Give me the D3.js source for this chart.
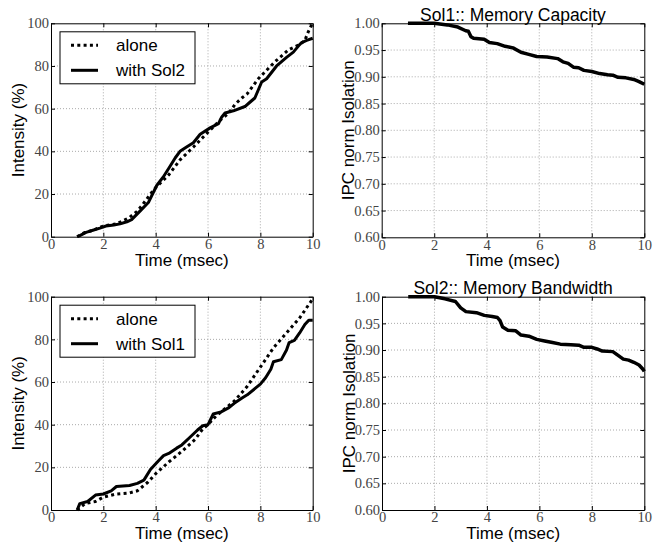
<!DOCTYPE html>
<html>
<head>
<meta charset="utf-8">
<script src="https://cdn.jsdelivr.net/npm/d3@7"></script>
<style>
  body { margin: 0; background: #fff; }
  .lbl { font-family: "Liberation Sans", Arial, sans-serif; font-size: 17px; fill: #000; }
  .grid line { stroke: #aaa; stroke-width: 1; stroke-dasharray: 1,2; }
</style>
</head>
<body>
<script>
// Top-left: intensity, alone vs with Sol2
var tlAloneT = [1.0, 1.3, 1.6, 2.0, 2.5, 3.0, 3.3, 3.5, 3.8, 4.0, 4.5, 4.93, 5.44, 6.0, 6.5, 6.8, 7.03, 7.29, 7.5, 7.92, 8.24, 8.56, 9.07, 9.32, 9.5, 9.7, 9.83, 9.96, 10];
var tlAloneV = [0, 2, 3, 5, 6, 9, 12, 15, 20, 23, 29, 36, 42, 49, 55, 58, 62, 65, 67, 74, 78, 82, 87.5, 89, 90, 92, 96, 99.3, 100];
var tlSolT = [1.0, 1.1, 1.34, 1.6, 1.87, 2.1, 2.4, 2.64, 2.9, 3.08, 3.4, 3.72, 4.04, 4.29, 4.55, 4.75, 4.93, 5.18, 5.44, 5.7, 6.08, 6.4, 6.52, 6.65, 6.97, 7.41, 7.6, 7.79, 8.05, 8.24, 8.62, 9.0, 9.26, 9.5, 9.58, 9.77, 10];
var tlSolV = [0, 0.5, 2, 3, 4, 5, 5.5, 6, 7, 8, 12, 16, 24, 28, 33, 37, 40, 42, 44, 48, 51, 53, 56, 58, 59, 61, 63, 65, 72.5, 74, 80, 84, 86.5, 90, 91, 92, 93];

// Bottom-left: intensity, alone vs with Sol1
var blAloneT = [1.0, 1.3, 1.7, 2.0, 2.5, 3.0, 3.3, 3.5, 3.7, 4.0, 4.5, 5.0, 5.5, 5.8, 6.0, 6.3, 6.6, 7.0, 7.5, 8.0, 8.5, 9.0, 9.5, 10];
var blAloneV = [0, 3, 4, 6, 7.5, 8, 9, 11, 13, 17, 22.5, 27.5, 33, 38, 40, 44, 47, 51, 58, 67, 76, 83, 90, 99];
var blSolT = [1.0, 1.1, 1.4, 1.7, 2.0, 2.3, 2.5, 3.0, 3.3, 3.55, 3.8, 4.1, 4.3, 4.5, 4.8, 5.0, 5.3, 5.6, 5.8, 6.0, 6.2, 6.5, 6.8, 7.0, 7.3, 7.5, 7.8, 8.0, 8.2, 8.4, 8.5, 8.8, 9.0, 9.1, 9.3, 9.5, 9.7, 9.85, 10];
var blSolV = [0, 3, 4, 7, 7.5, 9, 11, 11.5, 12.5, 14, 19, 23, 25.5, 26.5, 29, 30.5, 34, 37.5, 39.5, 40, 45, 46, 48, 50, 52.5, 54, 57, 59, 62, 66, 69.5, 70.5, 75, 78.5, 79.5, 83, 87, 89, 89];

// Top-right: Sol1 memory capacity
var trT = [1.0, 2.0, 2.5, 2.9, 3.2, 3.3, 3.4, 3.5, 3.9, 4.1, 4.4, 4.7, 5.0, 5.3, 5.6, 5.9, 6.3, 6.7, 6.9, 7.1, 7.3, 7.5, 7.7, 8.0, 8.3, 8.6, 8.8, 9.0, 9.3, 9.6, 9.8, 10];
var trV = [1.0, 1.0, 0.997, 0.993, 0.986, 0.985, 0.975, 0.972, 0.970, 0.964, 0.962, 0.957, 0.954, 0.946, 0.942, 0.938, 0.937, 0.934, 0.928, 0.925, 0.918, 0.917, 0.912, 0.910, 0.906, 0.904, 0.903, 0.899, 0.898, 0.895, 0.891, 0.886];

// Bottom-right: Sol2 memory bandwidth
var brT = [1.0, 2.0, 2.4, 2.8, 3.0, 3.2, 3.6, 3.9, 4.2, 4.4, 4.5, 4.6, 4.8, 5.1, 5.3, 5.6, 5.9, 6.2, 6.5, 6.8, 7.2, 7.5, 7.7, 8.0, 8.2, 8.4, 8.8, 9.0, 9.2, 9.4, 9.6, 9.8, 9.95, 10];
var brV = [1.0, 1.0, 0.996, 0.991, 0.979, 0.972, 0.970, 0.965, 0.963, 0.961, 0.955, 0.943, 0.937, 0.936, 0.928, 0.926, 0.920, 0.917, 0.914, 0.911, 0.910, 0.909, 0.905, 0.905, 0.902, 0.898, 0.897, 0.890, 0.883, 0.881, 0.877, 0.872, 0.864, 0.860];

var xTicks = [0, 2, 4, 6, 8, 10];
var intensityTicks = [0, 20, 40, 60, 80, 100];
var ipcTicks = [0.60, 0.65, 0.70, 0.75, 0.80, 0.85, 0.90, 0.95, 1.00];

function zip(t, v) { return t.map(function(d, i) { return [d, v[i]]; }); }

var svg = d3.select("body").append("svg")
  .attr("width", 667)
  .attr("height", 544);

function panel(o) {
  var w = o.x1 - o.x0, h = o.y1 - o.y0;
  var g = svg.append("g").attr("transform", "translate(" + o.x0 + "," + o.y0 + ")");

  var x = d3.scaleLinear().domain([0, 10]).range([0, w]);
  var y = d3.scaleLinear().domain(o.yDomain).range([h, 0]);

  // dotted grid
  var grid = g.append("g").attr("class", "grid");
  grid.selectAll(".gx").data(xTicks.slice(1, -1)).enter().append("line")
    .attr("x1", d => x(d)).attr("x2", d => x(d)).attr("y1", 0).attr("y2", h);
  grid.selectAll(".gy").data(o.yTicks.slice(1, -1)).enter().append("line")
    .attr("y1", d => y(d)).attr("y2", d => y(d)).attr("x1", 0).attr("x2", w);

  // series
  var line = d3.line().x(d => x(d[0])).y(d => y(d[1]));
  o.series.forEach(function(s) {
    g.append("path")
      .attr("d", line(s.data))
      .attr("fill", "none")
      .attr("stroke", "#000")
      .attr("stroke-width", s.width)
      .attr("stroke-linejoin", "round")
      .attr("stroke-dasharray", s.dash || null);
  });

  // axes with inward ticks
  g.append("g").attr("transform", "translate(0," + h + ")")
    .call(d3.axisBottom(x).tickValues(xTicks).tickSizeInner(-4).tickSizeOuter(0).tickPadding(2).tickFormat(d3.format("d")));
  g.append("g")
    .call(d3.axisLeft(y).tickValues(o.yTicks).tickSizeInner(-4).tickSizeOuter(0).tickPadding(2).tickFormat(o.yFormat));
  g.append("g")
    .call(d3.axisTop(x).tickValues(xTicks).tickSizeInner(-4).tickSizeOuter(0).tickFormat(""));
  g.append("g").attr("transform", "translate(" + w + ",0)")
    .call(d3.axisRight(y).tickValues(o.yTicks).tickSizeInner(-4).tickSizeOuter(0).tickFormat(""));
  g.selectAll(".domain").attr("stroke", "#000");
  g.selectAll(".tick line").attr("stroke", "#000");
  g.selectAll(".tick text")
    .style("font-family", "'Liberation Serif', 'Times New Roman', serif")
    .style("font-size", "14.5px")
    .style("fill", "#444");

  // labels
  g.append("text").attr("class", "lbl")
    .attr("x", w / 2).attr("y", h + 29)
    .attr("text-anchor", "middle")
    .text("Time (msec)");
  g.append("text").attr("class", "lbl")
    .attr("transform", "translate(" + o.yLabelX + "," + (h / 2) + ") rotate(-90)")
    .attr("text-anchor", "middle")
    .attr("dominant-baseline", "central")
    .text(o.yLabel);

  if (o.title) {
    g.append("text").attr("class", "lbl")
      .attr("x", w / 2).attr("y", -2.5)
      .attr("text-anchor", "middle")
      .style("font-size", "17.5px")
      .text(o.title);
  }

  if (o.legend) {
    var lg = g.append("g").attr("transform", "translate(9,8.5)");
    lg.append("rect").attr("width", 135).attr("height", 52)
      .attr("fill", "#fff").attr("stroke", "#000").attr("stroke-width", 1);
    o.series.forEach(function(s, i) {
      var yy = 13.5 + i * 25;
      lg.append("line")
        .attr("x1", 11).attr("x2", 38).attr("y1", yy).attr("y2", yy)
        .attr("stroke", "#000").attr("stroke-width", s.width)
        .attr("stroke-dasharray", s.dash || null);
      lg.append("text").attr("class", "lbl")
        .attr("x", 56).attr("y", yy + 6)
        .text(s.name);
    });
  }
}

var dotted = "3,3.3";

panel({
  x0: 51, x1: 312.7, y0: 23.3, y1: 236.7,
  yDomain: [0, 100], yTicks: intensityTicks, yFormat: d3.format("d"),
  yLabel: "Intensity (%)", yLabelX: -33,
  legend: true,
  series: [
    { name: "alone", data: zip(tlAloneT, tlAloneV), width: 3, dash: dotted },
    { name: "with Sol2", data: zip(tlSolT, tlSolV), width: 3 }
  ]
});

panel({
  x0: 381.7, x1: 644.3, y0: 23.3, y1: 237.3,
  yDomain: [0.6, 1.0], yTicks: ipcTicks, yFormat: d3.format(".2f"),
  yLabel: "IPC norm Isolation", yLabelX: -33,
  title: "Sol1:: Memory Capacity",
  series: [ { name: "Sol1", data: zip(trT, trV), width: 3.5 } ]
});

panel({
  x0: 51, x1: 312.7, y0: 296.7, y1: 510,
  yDomain: [0, 100], yTicks: intensityTicks, yFormat: d3.format("d"),
  yLabel: "Intensity (%)", yLabelX: -33,
  legend: true,
  series: [
    { name: "alone", data: zip(blAloneT, blAloneV), width: 3, dash: dotted },
    { name: "with Sol1", data: zip(blSolT, blSolV), width: 3 }
  ]
});

panel({
  x0: 382, x1: 644.3, y0: 296.7, y1: 510,
  yDomain: [0.6, 1.0], yTicks: ipcTicks, yFormat: d3.format(".2f"),
  yLabel: "IPC norm Isolation", yLabelX: -33,
  title: "Sol2:: Memory Bandwidth",
  series: [ { name: "Sol2", data: zip(brT, brV), width: 3.5 } ]
});
</script>
</body>
</html>
